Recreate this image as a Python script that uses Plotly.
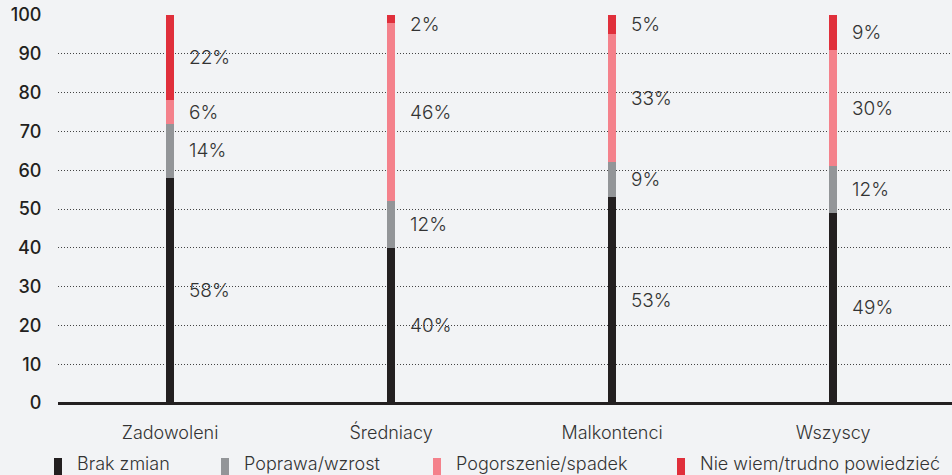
import plotly.graph_objects as go

# ---------- dane ----------
categories = ["Zadowoleni", "Średniacy", "Malkontenci", "Wszyscy"]
brak_zmian = [58, 40, 53, 49]
poprawa = [14, 12, 9, 12]
pogorszenie = [6, 46, 33, 30]
nie_wiem = [22, 2, 5, 9]

series_names = ["Brak zmian", "Poprawa/wzrost", "Pogorszenie/spadek", "Nie wiem/trudno powiedzieć"]
series_values = [brak_zmian, poprawa, pogorszenie, nie_wiem]
colors = ["#231f20", "#939598", "#f4818b", "#e02f3b"]

y_ticks = [0, 10, 20, 30, 40, 50, 60, 70, 80, 90, 100]

BG = "#f2f3f5"
TXT = "#333333"
W, H = 952, 475
M_L, M_R, M_T, M_B = 58, 0, 15, 72

fig = go.Figure()
x_idx = list(range(len(categories)))
for name, vals, col in zip(series_names, series_values, colors):
    fig.add_trace(go.Bar(x=x_idx, y=vals, name=name, marker_color=col,
                         marker_line_width=0, width=0.036, showlegend=False))

# etykiety procentowe obok słupków (środek segmentu)
base = [0] * len(categories)
for vals in series_values:
    for i, v in enumerate(vals):
        mid = min(base[i] + v / 2, 97.5)
        fig.add_annotation(x=i, y=mid, text=f"{v}%", showarrow=False,
                           xanchor="left", yanchor="middle", xshift=17,
                           font=dict(family="Inter", size=19, color=TXT, weight=300))
        base[i] += v

# legenda rysowana ręcznie (wąskie prostokąty)
pw = W - M_L - M_R
ph = H - M_T - M_B
def px_x(px):
    return (px - M_L) / pw
def px_y(py):
    return (H - M_B - py) / ph

legend_marker_x = [54, 221, 433, 677]
for name, col, mx in zip(series_names, colors, legend_marker_x):
    fig.add_shape(type="rect", xref="paper", yref="paper",
                  x0=px_x(mx), x1=px_x(mx + 8), y0=px_y(475), y1=px_y(458),
                  fillcolor=col, line_width=0)
    fig.add_annotation(xref="paper", yref="paper", x=px_x(mx + 21), y=px_y(464),
                       text=name, showarrow=False, xanchor="left", yanchor="middle",
                       font=dict(family="Inter", size=18, color=TXT, weight=300))

fig.update_layout(
    width=W, height=H,
    margin=dict(l=M_L, r=M_R, t=M_T, b=M_B),
    barmode="stack",
    paper_bgcolor=BG, plot_bgcolor=BG,
    showlegend=False,
    xaxis=dict(tickmode="array", tickvals=x_idx, ticktext=categories,
               range=[-0.507, 3.538], showgrid=False, zeroline=False,
               ticks="outside", ticklen=13, tickcolor="rgba(0,0,0,0)",
               tickfont=dict(family="Inter", size=18, color=TXT, weight=300)),
    yaxis=dict(range=[0, 100], tickvals=y_ticks, showgrid=True,
               gridcolor="#444444", griddash="1px,2px", gridwidth=1,
               zeroline=True, zerolinecolor="#231f20", zerolinewidth=2.5,
               ticks="outside", ticklen=12, tickcolor="rgba(0,0,0,0)",
               tickfont=dict(family="Inter", size=18, color="#231f20", weight=500)),
)

fig.write_html("out.html", config={"displayModeBar": False},
               post_script="document.body.style.margin='0px';document.body.style.background='%s';" % BG)
